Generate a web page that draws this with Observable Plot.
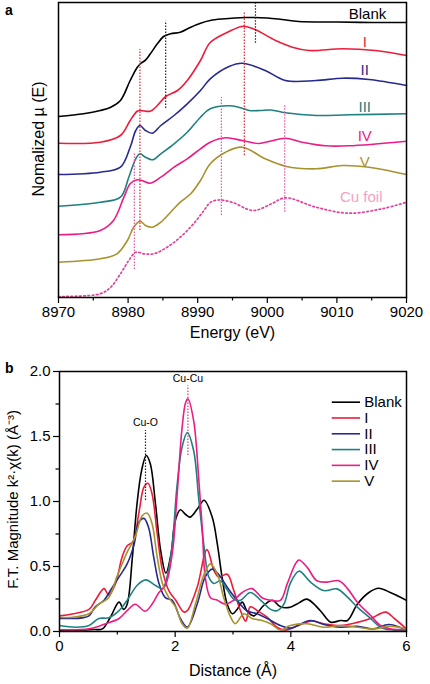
<!DOCTYPE html>
<html><head><meta charset="utf-8">
<script src="https://cdn.jsdelivr.net/npm/d3@7"></script>
<script src="https://cdn.jsdelivr.net/npm/@observablehq/plot@0.6"></script>
<style>
html,body{margin:0;padding:0;background:#fff;}
#wrap{position:relative;width:430px;height:684px;font-family:"Liberation Sans",Arial,Helvetica,sans-serif;}
#wrap svg{display:block;}
.pl{position:absolute;font-weight:bold;font-size:14px;line-height:14px;}
</style></head><body><div id="wrap"><div class="pl" style="left:5px;top:3px">a</div><div class="pl" style="left:5px;top:361px">b</div></div>
<script>
// ---------- Panel a: XANES (energy in eV, normalized mu with vertical offsets) ----------
const eMajor = [8970, 8980, 8990, 9000, 9010, 9020];
const eMinor = [8975, 8985, 8995, 9005, 9015];

const blankE  = [8970, 8973.6, 8976, 8977.5, 8978.9, 8980.3, 8981.3, 8981.8, 8982.5, 8983.2, 8984.2, 8985.1, 8986.1, 8987.5, 8989, 8990.4, 8991.8, 8993.5, 8996.9, 9000, 9002.1, 9004.5, 9010, 9015, 9020];
const blankMu = [1.81, 1.837, 1.87, 1.903, 1.97, 2.17, 2.30, 2.34, 2.373, 2.437, 2.537, 2.61, 2.637, 2.653, 2.703, 2.743, 2.77, 2.785, 2.80, 2.795, 2.78, 2.76, 2.755, 2.75, 2.75];

const iE  = [8970, 8976, 8978.9, 8980.3, 8981.3, 8981.8, 8983.2, 8984.2, 8985.4, 8987.1, 8988.5, 8990.4, 8991.8, 8994.5, 8996.6, 8998.3, 9001.2, 9003.6, 9006, 9010.8, 9015.5, 9020];
const iMu = [1.543, 1.553, 1.62, 1.77, 1.863, 1.87, 1.863, 1.92, 2.01, 2.07, 2.17, 2.37, 2.55, 2.66, 2.713, 2.677, 2.57, 2.503, 2.47, 2.487, 2.47, 2.42];

const iiE  = [8970, 8976, 8978.9, 8980.3, 8981.1, 8981.7, 8982.5, 8983.5, 8984.7, 8986.6, 8988.5, 8990.4, 8991.8, 8994.5, 8996.4, 8999.7, 9002.6, 9007, 9010.8, 9014.6, 9020];
const iiMu = [1.23, 1.253, 1.303, 1.503, 1.67, 1.72, 1.67, 1.643, 1.72, 1.82, 1.937, 2.07, 2.187, 2.31, 2.343, 2.27, 2.17, 2.17, 2.193, 2.18, 2.12];

const iiiE  = [8970, 8976, 8978.9, 8980.1, 8981.1, 8981.7, 8982.5, 8983.5, 8984.7, 8986.6, 8988.5, 8990.4, 8991.8, 8994.7, 8996.4, 8997.4, 8999, 9000.5, 9002.6, 9007, 9011.7, 9020];
const iiiMu = [0.913, 0.953, 1.003, 1.203, 1.387, 1.437, 1.403, 1.377, 1.437, 1.537, 1.653, 1.803, 1.887, 1.917, 1.893, 1.87, 1.87, 1.875, 1.847, 1.82, 1.827, 1.837];

const ivE  = [8970, 8976, 8977.9, 8979.4, 8980.3, 8981.3, 8982, 8983.2, 8984.7, 8986.6, 8988.5, 8990.4, 8991.8, 8994, 8996.4, 8998.8, 9000.5, 9002.6, 9005, 9008.4, 9011.7, 9020];
const ivMu = [0.627, 0.67, 0.77, 1.003, 1.137, 1.177, 1.17, 1.143, 1.203, 1.303, 1.387, 1.487, 1.553, 1.597, 1.57, 1.54, 1.565, 1.593, 1.553, 1.517, 1.517, 1.563];

const vE  = [8970, 8976, 8978.4, 8979.9, 8980.8, 8981.7, 8982.5, 8983.5, 8984.7, 8986.1, 8987.5, 8989, 8990.4, 8991.8, 8994, 8996.4, 8999.7, 9002.6, 9007, 9010.8, 9014.6, 9020];
const vMu = [0.353, 0.387, 0.437, 0.57, 0.703, 0.763, 0.72, 0.703, 0.753, 0.853, 0.953, 1.037, 1.17, 1.337, 1.453, 1.503, 1.387, 1.313, 1.287, 1.32, 1.303, 1.23];

const foilE  = [8970, 8976, 8977.5, 8978.9, 8980.1, 8981.1, 8982.3, 8983.7, 8985.6, 8987.5, 8989.4, 8990.9, 8991.8, 8993, 8994.9, 8998, 9000.6, 9002.6, 9007, 9011.7, 9016.5, 9020];
const foilMu = [0.01, 0.037, 0.103, 0.237, 0.37, 0.453, 0.437, 0.437, 0.503, 0.603, 0.737, 0.87, 0.95, 0.975, 0.953, 0.87, 0.937, 0.997, 0.903, 0.843, 0.887, 0.953];

// reference (dashed) lines: energy, top and bottom of each segment
const refE    = [8985.4, 8981.7, 8980.9, 8998.3, 8996.7, 8993.4, 9002.5];
const refTop  = [2.763, 2.48, 1.44, 2.95, 2.85, 2.0, 1.93];
const refBot  = [1.89, 0.67, 0.28, 2.543, 1.42, 0.82, 0.853];
const refKind = ["black", "red", "pink", "black", "red", "pink", "pink"];

// series names and label positions in panel a
const seriesNames = ["Blank", "I", "II", "III", "IV", "V"];
const labelE  = [9014.4, 9014.0, 9014.0, 9014.0, 9014.0, 9014.0, 9013.5];
const labelMu = [2.83, 2.553, 2.27, 1.903, 1.61, 1.353, 1.003];

// ---------- Panel b: EXAFS FT magnitude ----------
const rMajor = [0, 2, 4, 6];
const rMinor = [1, 3, 5];
const yMajor = [0, 0.5, 1.0, 1.5, 2.0];
const yMinor = [0.25, 0.75, 1.25, 1.75];

const blankR = [0, 0.3, 0.6, 0.74, 0.88, 1.03, 1.11, 1.17, 1.26, 1.34, 1.42, 1.5, 1.57, 1.66, 1.75, 1.84, 1.93, 2.0, 2.09, 2.18, 2.26, 2.38, 2.5, 2.64, 2.73, 2.81, 2.9, 2.99, 3.07, 3.16, 3.24, 3.36, 3.53, 3.68, 3.82, 3.99, 4.14, 4.28, 4.51, 4.69, 4.86, 4.98, 5.15, 5.35, 5.52, 5.72, 6.0];
const blankFT = [0.01, 0.01, 0.015, 0.02, 0.11, 0.226, 0.17, 0.21, 0.57, 0.98, 1.24, 1.354, 1.29, 0.98, 0.62, 0.45, 0.6, 0.85, 0.936, 0.9, 0.88, 0.94, 1.01, 0.88, 0.67, 0.42, 0.21, 0.136, 0.17, 0.226, 0.16, 0.12, 0.2, 0.24, 0.19, 0.187, 0.22, 0.249, 0.16, 0.072, 0.085, 0.085, 0.21, 0.30, 0.333, 0.30, 0.24];

const iR  = [0, 0.22, 0.51, 0.62, 0.77, 0.85, 0.97, 1.08, 1.17, 1.27, 1.37, 1.46, 1.53, 1.6, 1.69, 1.78, 1.89, 2.01, 2.15, 2.21, 2.38, 2.55, 2.67, 2.75, 2.9, 3.01, 3.13, 3.22, 3.3, 3.42, 3.59, 3.76, 3.88, 3.99, 4.34, 4.57, 4.86, 5.15, 5.38, 5.64, 5.79, 6.0];
const iFT = [0.12, 0.135, 0.17, 0.24, 0.33, 0.28, 0.37, 0.57, 0.66, 0.69, 0.905, 1.11, 1.14, 1.06, 0.75, 0.47, 0.315, 0.24, 0.15, 0.16, 0.34, 0.63, 0.47, 0.42, 0.44, 0.32, 0.16, 0.08, 0.19, 0.16, 0.11, 0.033, 0.012, 0.02, 0.08, 0.06, 0.046, 0.07, 0.1, 0.149, 0.1, 0.02];

const iiR  = [0, 0.22, 0.39, 0.51, 0.62, 0.77, 0.88, 1.03, 1.17, 1.29, 1.37, 1.46, 1.54, 1.63, 1.72, 1.83, 1.95, 2.09, 2.21, 2.38, 2.52, 2.64, 2.75, 2.9, 3.07, 3.24, 3.42, 3.59, 3.82, 3.99, 4.34, 4.57, 4.86, 5.15, 5.43, 5.69, 6.0];
const iiFT = [0.1, 0.1, 0.105, 0.12, 0.19, 0.24, 0.315, 0.42, 0.52, 0.67, 0.84, 0.87, 0.8, 0.57, 0.37, 0.26, 0.24, 0.1, 0.035, 0.21, 0.42, 0.48, 0.44, 0.34, 0.24, 0.16, 0.136, 0.1, 0.046, 0.026, 0.085, 0.054, 0.033, 0.04, 0.02, 0.054, 0.012];

const iiiR  = [0, 0.28, 0.51, 0.68, 0.85, 1.03, 1.17, 1.34, 1.49, 1.66, 1.78, 1.86, 1.95, 2.03, 2.12, 2.21, 2.32, 2.41, 2.5, 2.58, 2.67, 2.78, 2.9, 3.01, 3.13, 3.3, 3.48, 3.65, 3.76, 3.88, 3.99, 4.14, 4.34, 4.57, 4.8, 4.98, 5.15, 5.38, 5.55, 5.72, 6.0];
const iiiFT = [0.046, 0.033, 0.046, 0.1, 0.105, 0.16, 0.24, 0.354, 0.397, 0.354, 0.33, 0.42, 0.67, 1.11, 1.42, 1.53, 1.39, 1.01, 0.65, 0.42, 0.37, 0.39, 0.32, 0.25, 0.24, 0.30, 0.24, 0.17, 0.16, 0.21, 0.37, 0.464, 0.38, 0.315, 0.328, 0.264, 0.187, 0.1, 0.033, 0.013, 0.01];

const ivR  = [0, 0.51, 0.8, 1.03, 1.17, 1.31, 1.48, 1.6, 1.72, 1.83, 1.95, 2.03, 2.12, 2.18, 2.22, 2.32, 2.41, 2.47, 2.52, 2.61, 2.73, 2.87, 3.01, 3.16, 3.33, 3.5, 3.65, 3.82, 3.94, 4.08, 4.14, 4.28, 4.45, 4.63, 4.83, 4.98, 5.15, 5.38, 5.55, 5.72, 6.0];
const ivFT = [0.013, 0.02, 0.06, 0.1, 0.16, 0.21, 0.156, 0.21, 0.3, 0.354, 0.6, 1.03, 1.57, 1.76, 1.79, 1.62, 1.16, 0.78, 0.42, 0.26, 0.24, 0.21, 0.24, 0.30, 0.33, 0.26, 0.24, 0.24, 0.37, 0.52, 0.55, 0.495, 0.39, 0.38, 0.39, 0.33, 0.225, 0.123, 0.046, 0.02, 0.013];

const vR  = [0, 0.22, 0.51, 0.68, 0.85, 1.0, 1.17, 1.31, 1.43, 1.52, 1.6, 1.69, 1.78, 1.89, 2.01, 2.12, 2.21, 2.35, 2.5, 2.61, 2.73, 2.84, 2.96, 3.04, 3.19, 3.33, 3.5, 3.65, 3.82, 3.99, 4.28, 4.57, 4.86, 5.15, 5.43, 5.72, 6.0];
const vFT = [0.11, 0.11, 0.136, 0.21, 0.26, 0.43, 0.61, 0.73, 0.89, 0.91, 0.83, 0.57, 0.37, 0.26, 0.187, 0.06, 0.025, 0.21, 0.44, 0.52, 0.44, 0.26, 0.11, 0.06, 0.136, 0.1, 0.085, 0.06, 0.012, 0.046, 0.06, 0.033, 0.046, 0.033, 0.02, 0.04, 0.02];

// annotations in panel b
const annText = ["Cu-O", "Cu-Cu"];
const annR    = [1.487, 2.22];
const annTop  = [1.546, 1.89];
const annBot  = [1.008, 1.354];
const annTextY = [1.61, 1.946];

// ---------- styles ----------
const FONT = '"Liberation Sans", Arial, Helvetica, sans-serif';
const colors = ["#000000", "#ee1c3a", "#262a8e", "#1f8080", "#ec1c86", "#a8922e"];
const foilColor = "#e0429a";
const foilLabelColor = "#f4a1c8";
const refColors = {black: "#222222", red: "#e8202a", pink: "#f050a0"};

const zip = (xs, ys) => xs.map((x, i) => ({x, y: ys[i]}));

const xanes = [[blankE, blankMu], [iE, iMu], [iiE, iiMu], [iiiE, iiiMu], [ivE, ivMu], [vE, vMu]];
const exafs = [[blankR, blankFT], [iR, iFT], [iiR, iiFT], [iiiR, iiiFT], [ivR, ivFT], [vR, vFT]];

const refRows = refE.map((e, i) => ({x: e, y1: refBot[i], y2: refTop[i], k: refKind[i]}));
const labelRows = seriesNames.concat(["Cu foil"]).map((t, i) => ({t, x: labelE[i], y: labelMu[i], c: i < 6 ? colors[i] : foilLabelColor}));

const marksA = [];
xanes.forEach(([xs, ys], i) => {
  marksA.push(Plot.line(zip(xs, ys), {x: "x", y: "y", stroke: colors[i], strokeWidth: 1.6, curve: "catmull-rom"}));
});
marksA.push(Plot.line(zip(foilE, foilMu), {x: "x", y: "y", stroke: foilColor, strokeWidth: 1.7, strokeDasharray: "1.6,2.6", curve: "catmull-rom"}));
for (const k of ["black", "red", "pink"]) {
  marksA.push(Plot.ruleX(refRows.filter(d => d.k === k), {x: "x", y1: "y1", y2: "y2", stroke: refColors[k], strokeWidth: 1.2, strokeDasharray: "1.5,1.5"}));
}
labelRows.forEach(d => {
  marksA.push(Plot.text([d], {x: "x", y: "y", text: "t", fill: d.c, fontSize: 15, textAnchor: "middle"}));
});
marksA.push(
  Plot.frame({stroke: "#000", strokeWidth: 1.5}),
  Plot.axisX(eMajor, {tickSize: 6, tickPadding: 3, tickFormat: d => String(d), label: null, fontSize: 15, strokeWidth: 1.2}),
  Plot.axisX(eMinor, {tickSize: 3.5, tickFormat: () => "", label: null, strokeWidth: 1.2}),
  Plot.text(["Energy (eV)"], {text: d => d, frameAnchor: "bottom", lineAnchor: "middle", textAnchor: "middle", dy: 35, fontSize: 16}),
  Plot.text(["Nomalized \u00b5 (E)"], {text: d => d, frameAnchor: "left", rotate: -90, textAnchor: "middle", lineAnchor: "middle", dx: -20, dy: -11, fontSize: 16})
);

const plotA = Plot.plot({
  width: 430, height: 345,
  marginLeft: 58, marginRight: 24, marginTop: 2, marginBottom: 48,
  style: {fontFamily: FONT, fontSize: "15px", color: "#000", background: "transparent", overflow: "visible"},
  x: {domain: [8970, 9020]},
  y: {domain: [0, 2.95], axis: null},
  marks: marksA
});

// ---------- panel b ----------
const marksB = [];
exafs.forEach(([xs, ys], i) => {
  marksB.push(Plot.line(zip(xs, ys), {x: "x", y: "y", stroke: colors[i], strokeWidth: 1.6, curve: "catmull-rom", clip: true}));
});
annR.forEach((r, i) => {
  marksB.push(Plot.ruleX([r], {x: d => d, y1: annBot[i], y2: annTop[i], stroke: i === 0 ? "#222" : "#e83a6a", strokeWidth: 1.2, strokeDasharray: "1.5,1.5"}));
  marksB.push(Plot.text([annText[i]], {x: annR[i], y: annTextY[i], text: d => d, fontSize: 10.5, textAnchor: "middle"}));
});
// legend (top-right inside frame)
seriesNames.forEach((name, i) => {
  const ly = 1.764 - i * 0.1215;
  marksB.push(Plot.ruleY([ly], {y: d => d, x1: 4.716, x2: 5.205, stroke: colors[i], strokeWidth: 1.6}));
  marksB.push(Plot.text([name], {x: 5.27, y: ly, text: d => d, textAnchor: "start", fontSize: 15}));
});
marksB.push(
  Plot.frame({stroke: "#000", strokeWidth: 1.5}),
  Plot.axisX(rMajor, {tickSize: 6, tickPadding: 3, tickFormat: d => String(d), label: null, fontSize: 15, strokeWidth: 1.2}),
  Plot.axisX(rMinor, {tickSize: 3.5, tickFormat: () => "", label: null, strokeWidth: 1.2}),
  Plot.axisY(yMajor, {tickSize: 6, tickPadding: 3, tickFormat: d3.format(".1f"), label: null, fontSize: 15, strokeWidth: 1.2}),
  Plot.axisY(yMinor, {tickSize: 3.5, tickFormat: () => "", label: null, strokeWidth: 1.2}),
  Plot.text(["Distance (\u00c5)"], {text: d => d, frameAnchor: "bottom", lineAnchor: "middle", textAnchor: "middle", dy: 39, fontSize: 16}),
  Plot.text(["F.T. Magnitude k\u00b2\u00b7\u03c7(k) (\u00c5\u207b\u00b3)"], {text: d => d, frameAnchor: "left", rotate: -90, textAnchor: "middle", lineAnchor: "middle", dx: -46, dy: -2, fontSize: 15})
);

const plotB = Plot.plot({
  width: 430, height: 339,
  marginLeft: 59, marginRight: 24, marginTop: 26, marginBottom: 53,
  style: {fontFamily: FONT, fontSize: "15px", color: "#000", background: "transparent", overflow: "visible"},
  x: {domain: [0, 6]},
  y: {domain: [0, 2]},
  marks: marksB
});

const wrap = document.getElementById("wrap");
wrap.insertBefore(plotB, wrap.firstChild);
wrap.insertBefore(plotA, wrap.firstChild);
</script>
</body></html>
